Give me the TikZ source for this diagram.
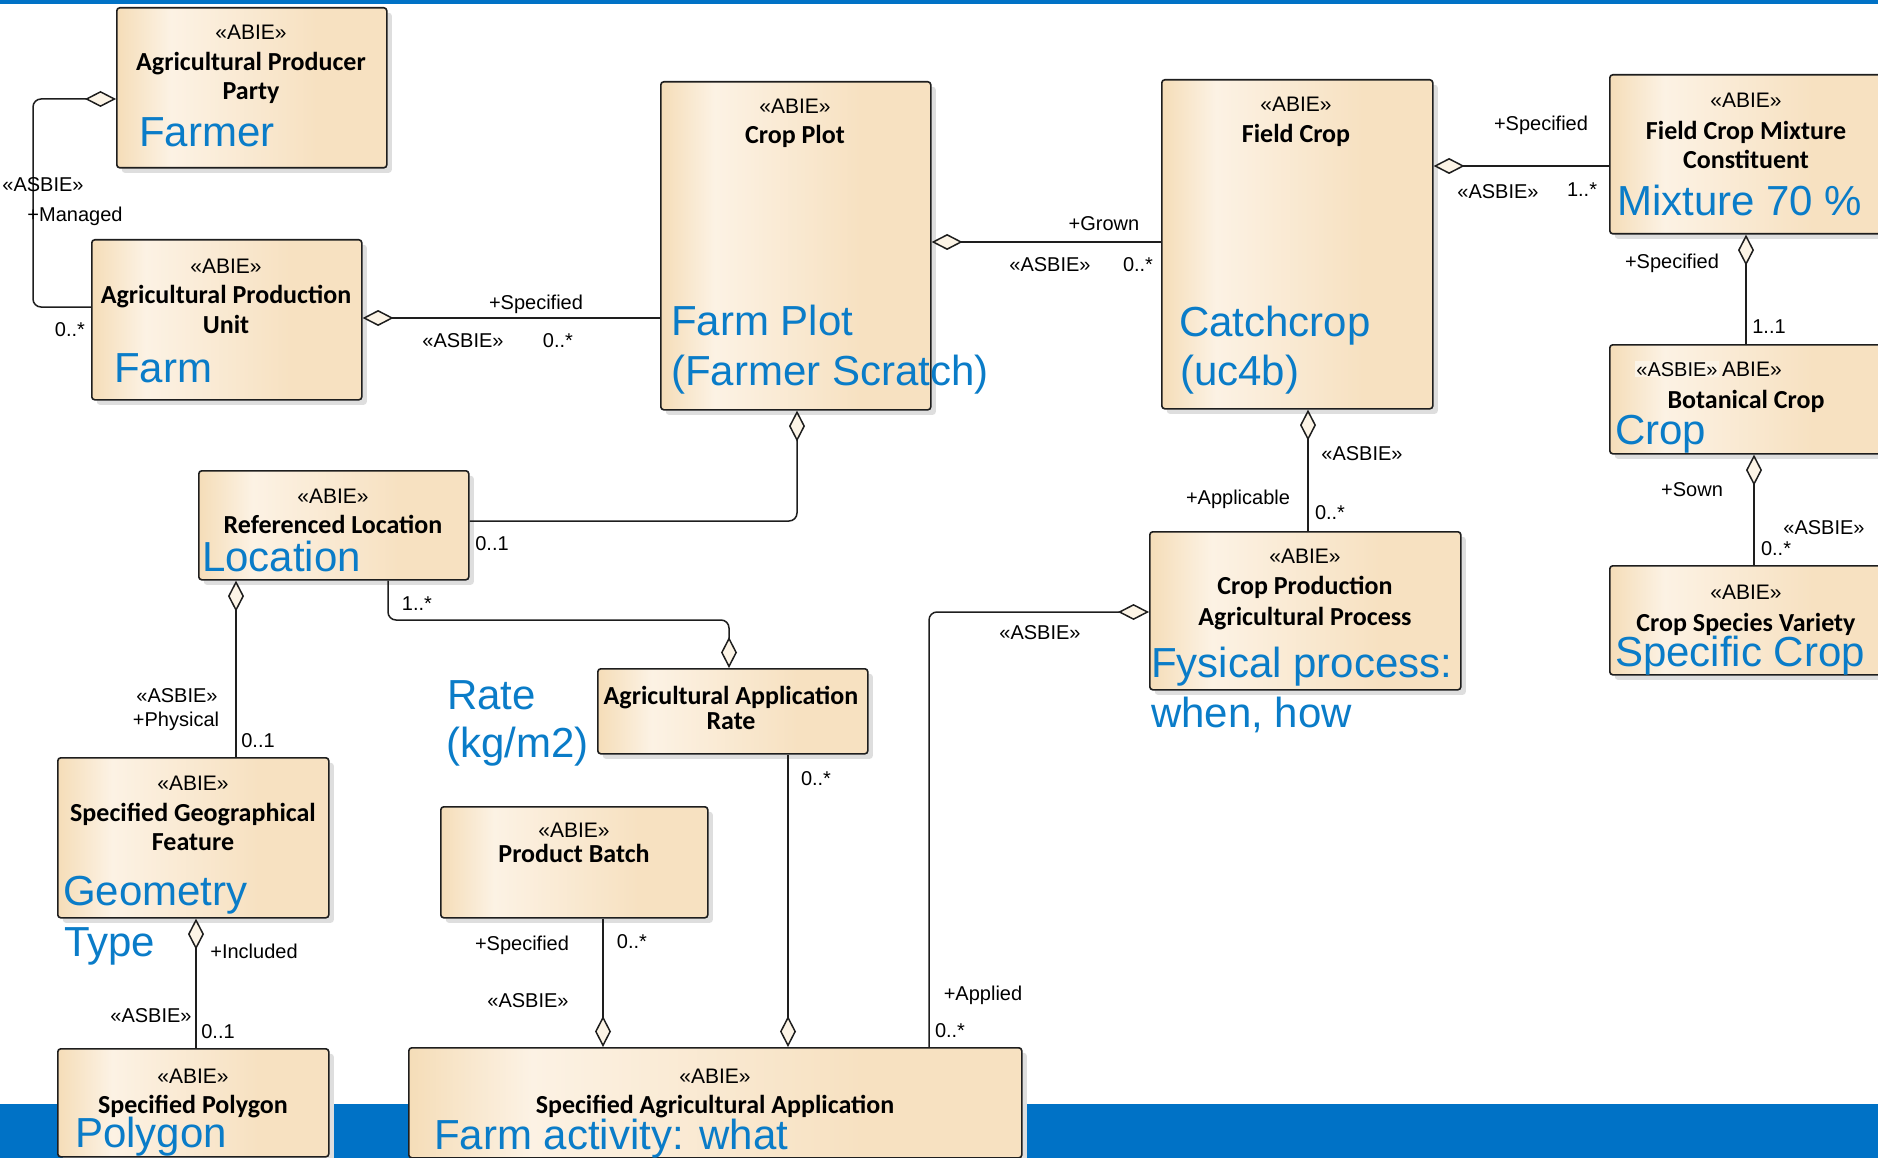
\documentclass[tikz,border=0pt]{standalone}
\usepackage{fontspec}
\setmainfont{Liberation Sans}
\newfontfamily\calibri{Carlito}
\usetikzlibrary{arrows.meta,shadows}

\definecolor{tanL}{RGB}{245,221,184}
\definecolor{creamM}{RGB}{252,242,228}
\definecolor{tanR}{RGB}{247,225,193}
\definecolor{textblue}{RGB}{10,124,200}
\definecolor{bandblue}{RGB}{0,114,198}
\definecolor{linegray}{RGB}{30,30,30}
\definecolor{diamondfill}{RGB}{252,244,230}

% class box fill: tan edges with a light streak near the left side
\pgfdeclarehorizontalshading{abieshade}{100bp}{color(0bp)=(tanL); color(25bp)=(tanL); color(35bp)=(creamM); color(62bp)=(tanR); color(75bp)=(tanR); color(100bp)=(tanR)}

\tikzset{
  abie/.style={draw=linegray, line width=1.6pt, rounded corners=3pt, shade, shading=abieshade,
    drop shadow={shadow xshift=5pt, shadow yshift=-5pt, fill=black!13, opacity=1},
    anchor=north west, inner sep=0pt},
  stereo/.style={font=\fontsize{21}{25}\selectfont, anchor=base, inner sep=0pt},
  title/.style={font=\calibri\bfseries\fontsize{26}{31}\selectfont, anchor=base, inner sep=0pt},
  note/.style={font=\fontsize{42}{50}\selectfont, text=textblue, anchor=base west, inner sep=0pt},
  lbl/.style={font=\fontsize{20}{24}\selectfont, anchor=base, inner sep=0pt},
  conn/.style={draw=linegray, line width=1.5pt},
  agg/.style={-{Diamond[length=31pt, width=16pt, fill=diamondfill]}},
}

\begin{document}
\begin{tikzpicture}[x=1pt, y=-1pt]
\useasboundingbox (0,0) rectangle (1878,1158);

% page decoration bars
\fill[bandblue] (0,0) rectangle (1878,4);
\fill[bandblue] (0,1104) rectangle (1878,1158);

% ---------- class boxes ----------
\node[abie, minimum width=270pt, minimum height=160pt] (app) at (116,7) {};
\node[abie, minimum width=270pt, minimum height=160pt] (apu) at (91,239) {};
\node[abie, minimum width=270pt, minimum height=328pt] (cp) at (660,81) {};
\node[abie, minimum width=271pt, minimum height=329pt] (fc) at (1161,79) {};
\node[abie, minimum width=274pt, minimum height=159pt] (mix) at (1609,74) {};
\node[abie, minimum width=274pt, minimum height=109pt] (bc) at (1609,344) {};
\node[abie, minimum width=274pt, minimum height=109pt] (csv) at (1609,565) {};
\node[abie, minimum width=270pt, minimum height=109pt] (rl) at (198,470) {};
\node[abie, minimum width=270pt, minimum height=85pt] (aar) at (597,668) {};
\node[abie, minimum width=267pt, minimum height=111pt] (pb) at (440,806) {};
\node[abie, minimum width=613pt, minimum height=110pt] (saa) at (408,1047) {};
\node[abie, minimum width=311pt, minimum height=158pt] (cpap) at (1149,531) {};
\node[abie, minimum width=271pt, minimum height=160pt] (sgf) at (57,757) {};
\node[abie, minimum width=271pt, minimum height=108pt] (sp) at (57,1048) {};

% ---------- associations ----------
\draw[conn, agg, rounded corners=8pt] (apu.west |- 0,307) -| (33,99) -- (app.west |- 0,99);
\draw[conn, agg] (cp.west |- 0,318) -- (apu.east |- 0,318);
\draw[conn, agg] (fc.west |- 0,242) -- (cp.east |- 0,242);
\draw[conn, agg] (mix.west |- 0,166) -- (fc.east |- 0,166);
\draw[conn, agg] (bc.north -| 1746,0) -- (mix.south -| 1746,0);
\draw[conn, agg] (csv.north -| 1754,0) -- (bc.south -| 1754,0);
\draw[conn, agg] (cpap.north -| 1308,0) -- (fc.south -| 1308,0);
\draw[conn, agg, rounded corners=8pt] (saa.north -| 929,0) |- (cpap.west |- 0,612);
\draw[conn, agg, rounded corners=8pt] (rl.east |- 0,521) -| (cp.south -| 797,0);
\draw[conn, agg, rounded corners=8pt] (rl.south -| 388,0) |- (729,620) -- (aar.north -| 729,0);
\draw[conn, agg] (sgf.north -| 236,0) -- (rl.south -| 236,0);
\draw[conn, agg] (sp.north -| 196,0) -- (sgf.south -| 196,0);
\draw[conn, agg] (aar.south -| 788,0) -- (saa.north -| 788,0);
\draw[conn, agg] (pb.south -| 603,0) -- (saa.north -| 603,0);

% ---------- box contents ----------
\node[stereo] (app-s) at (251,40) {«ABIE»};
\node[title] (app-t1) at (251,71) {Agricultural Producer};
\node[title] (app-t2) at (251,100) {Party};
\node[note] (app-n) at (139,147) {Farmer};

\node[stereo] (apu-s) at (226,273) {«ABIE»};
\node[title] (apu-t1) at (226,303) {Agricultural Production};
\node[title] (apu-t2) at (226,333) {Unit};
\node[note] (apu-n) at (114,382) {Farm};

\node[stereo] (cp-s) at (795,114) {«ABIE»};
\node[title] (cp-t) at (795,144) {Crop Plot};
\node[note] (cp-n1) at (671,335) {Farm Plot};
\node[note] (cp-n2) at (671,385) {(Farmer Scratch)};

\node[stereo] (fc-s) at (1296,112) {«ABIE»};
\node[title] (fc-t) at (1296,143) {Field Crop};
\node[note] (fc-n1) at (1179,336) {Catchcrop};
\node[note] (fc-n2) at (1180,385) {(uc4b)};

\node[stereo] (mix-s) at (1746,108) {«ABIE»};
\node[title] (mix-t1) at (1746,140) {Field Crop Mixture};
\node[title] (mix-t2) at (1746,169) {Constituent};
\node[note] (mix-n) at (1617,216) {Mixture 70 \%};

% the association stereotype sits over the start of the class stereotype
\node[stereo, anchor=base west] (bc-s) at (1722,376) {ABIE»};
\node[lbl, fill=white!65!tanL, inner sep=1pt] (bc-l) at (1677,376) {«ASBIE»};
\node[title] (bc-t) at (1746,408) {Botanical Crop};
\node[note] (bc-n) at (1615,444) {Crop};

\node[stereo] (csv-s) at (1746,599) {«ABIE»};
\node[title] (csv-t) at (1746,631) {Crop Species Variety};
\node[note] (csv-n) at (1615,666) {Specific Crop};

\node[stereo] (rl-s) at (333,503) {«ABIE»};
\node[title] (rl-t) at (333,533) {Referenced Location};
\node[note] (rl-n) at (202,571) {Location};

\node[title] (aar-t1) at (731,704) {Agricultural Application};
\node[title] (aar-t2) at (731,729) {Rate};

\node[stereo] (pb-s) at (574,837) {«ABIE»};
\node[title] (pb-t) at (574,862) {Product Batch};

\node[stereo] (saa-s) at (715,1083) {«ABIE»};
\node[title] (saa-t) at (715,1113) {Specified Agricultural Application};
\node[note] (saa-n) at (434,1149) {Farm activity: what};

\node[stereo] (cpap-s) at (1305,563) {«ABIE»};
\node[title] (cpap-t1) at (1305,594) {Crop Production};
\node[title] (cpap-t2) at (1305,625) {Agricultural Process};
\node[note] (cpap-n1) at (1151,677) {Fysical process:};
\node[note] (cpap-n2) at (1151,727) {when, how};

\node[stereo] (sgf-s) at (193,790) {«ABIE»};
\node[title] (sgf-t1) at (193,821) {Specified Geographical};
\node[title] (sgf-t2) at (193,850) {Feature};
\node[note] (sgf-n1) at (63,905) {Geometry};
\node[note] (sgf-n2) at (64,956) {Type};

\node[stereo] (sp-s) at (193,1083) {«ABIE»};
\node[title] (sp-t) at (193,1113) {Specified Polygon};
\node[note] (sp-n) at (75,1147) {Polygon};

\node[note] (rate1) at (447,709) {Rate};
\node[note] (rate2) at (446,757) {(kg/m2)};

% ---------- association end labels ----------
\node[lbl] (l1) at (43,192) {«ASBIE»};
\node[lbl] (l2) at (75,222) {+Managed};
\node[lbl] (l3) at (70,336) {0..*};
\node[lbl] (l4) at (536,309) {+Specified};
\node[lbl] (l5) at (463,347) {«ASBIE»};
\node[lbl] (l6) at (558,347) {0..*};
\node[lbl] (l7) at (1104,231) {+Grown};
\node[lbl] (l8) at (1050,272) {«ASBIE»};
\node[lbl] (l9) at (1138,272) {0..*};
\node[lbl] (l10) at (1541,131) {+Specified};
\node[lbl] (l11) at (1498,199) {«ASBIE»};
\node[lbl] (l12) at (1582,197) {1..*};
\node[lbl] (l13) at (1672,269) {+Specified};
\node[lbl] (l14) at (1769,333) {1..1};
\node[lbl] (l16) at (1692,496) {+Sown};
\node[lbl] (l17) at (1824,534) {«ASBIE»};
\node[lbl] (l18) at (1776,555) {0..*};
\node[lbl] (l19) at (492,550) {0..1};
\node[lbl] (l20) at (417,610) {1..*};
\node[lbl] (l21) at (177,702) {«ASBIE»};
\node[lbl] (l22) at (176,726) {+Physical};
\node[lbl] (l23) at (258,747) {0..1};
\node[lbl] (l24) at (254,958) {+Included};
\node[lbl] (l25) at (151,1022) {«ASBIE»};
\node[lbl] (l26) at (218,1038) {0..1};
\node[lbl] (l27) at (816,785) {0..*};
\node[lbl] (l28) at (522,950) {+Specified};
\node[lbl] (l29) at (528,1007) {«ASBIE»};
\node[lbl] (l30) at (632,948) {0..*};
\node[lbl] (l31) at (983,1000) {+Applied};
\node[lbl] (l32) at (950,1037) {0..*};
\node[lbl] (l33) at (1040,639) {«ASBIE»};
\node[lbl] (l34) at (1362,460) {«ASBIE»};
\node[lbl] (l35) at (1238,504) {+Applicable};
\node[lbl] (l36) at (1330,519) {0..*};
\end{tikzpicture}
\end{document}
